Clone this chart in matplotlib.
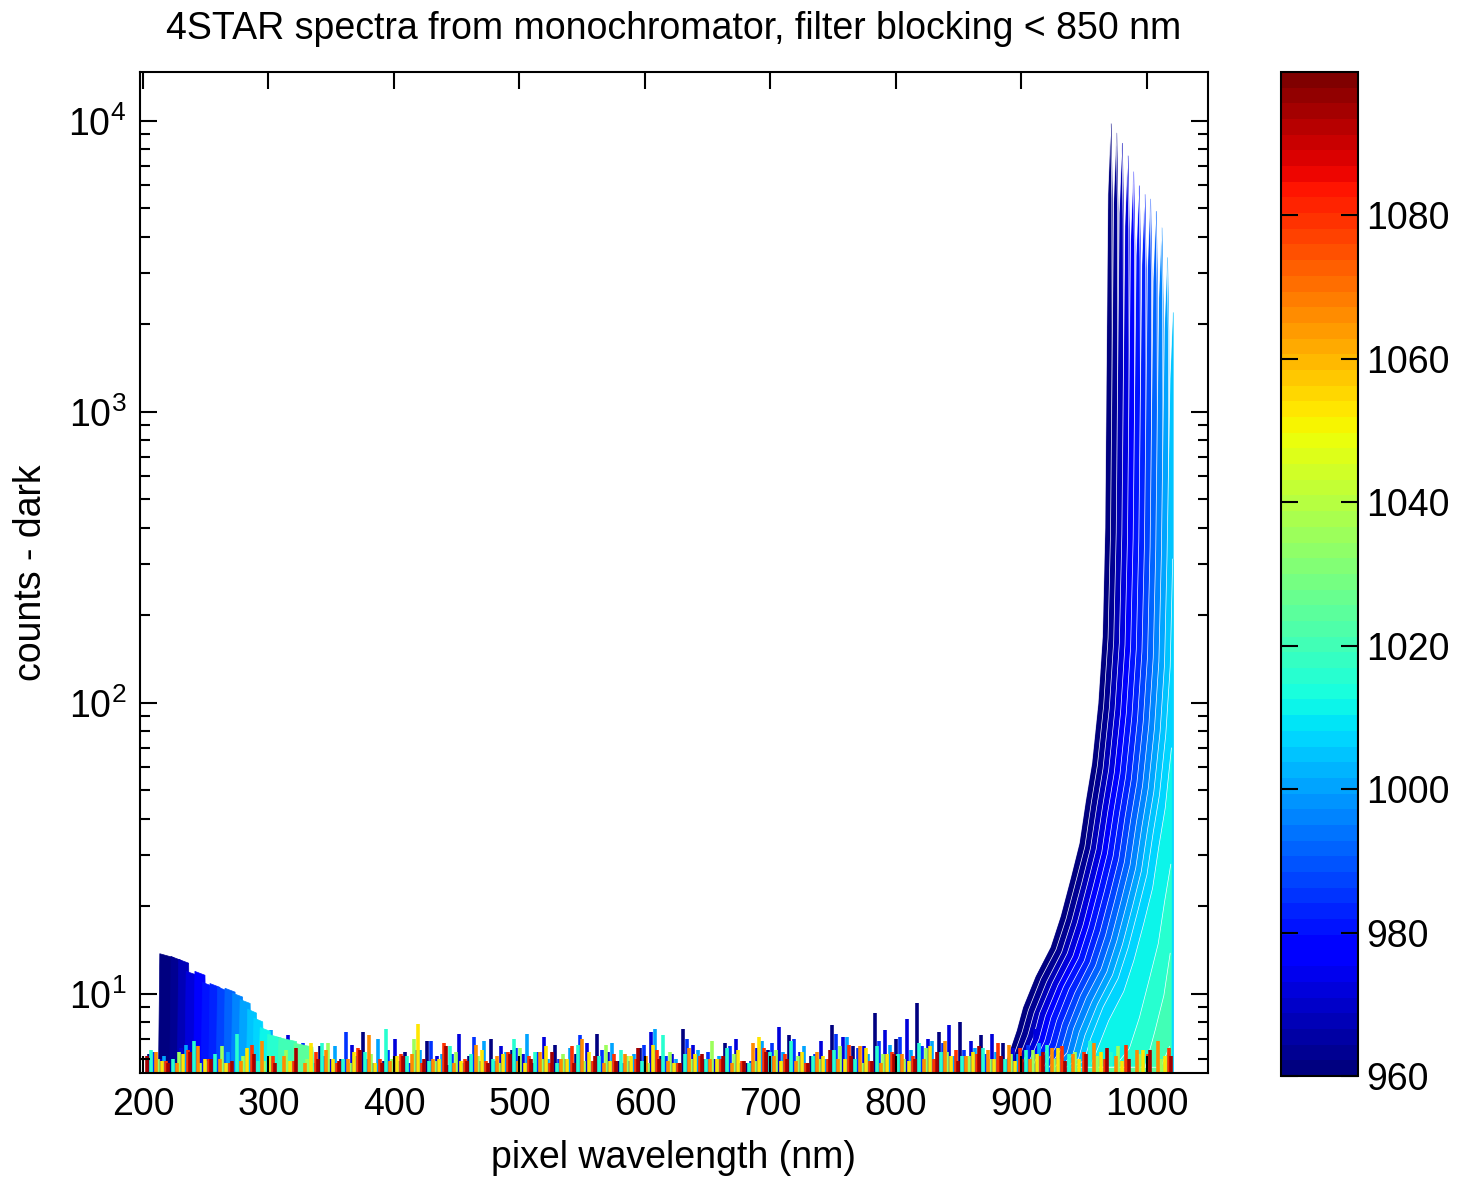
import numpy as np
import matplotlib
matplotlib.use('Agg')
import matplotlib.pyplot as plt
from matplotlib import font_manager
from matplotlib.colors import Normalize
from matplotlib.cm import ScalarMappable

# police étroite façon MATLAB si elle existe
noms_polices = {f.name for f in font_manager.fontManager.ttflist}
police = 'Liberation Sans Narrow' if 'Liberation Sans Narrow' in noms_polices else 'Liberation Sans'
plt.rcParams['font.family'] = [police, 'DejaVu Sans']
plt.rcParams['mathtext.fontset'] = 'custom'
plt.rcParams['mathtext.rm'] = police
plt.rcParams['mathtext.it'] = police
plt.rcParams['mathtext.bf'] = police

# ---- données ----
# longueurs d'onde du monochromateur (couleur) pour les spectres avec signal
mono_pic = [960, 964, 968, 972, 976, 980, 984, 988, 992, 996, 1000,
            1004, 1008, 1012, 1016, 1020, 1024]
# position du pic (nm pixel) de chaque spectre
pos_pic = [971.0, 975.5, 980.0, 984.5, 989.0, 993.5, 998.0, 1002.5, 1007.0,
           1011.5, 1016.0, 1020.5, 1025.0, 1029.5, 1034.0, 1038.5, 1043.0]
# écart au pic (nm) des points lus
decalage_pic = [-85, -75, -70, -60, -48, -40, -32, -25, -20, -15, -10, -6.5,
                -4.5, -2.2, 0, 1.0, 1.6, 2.5, 4, 8, 15, 25, 40]
# comptes - dark à chaque écart
comptes_pic = [
    [5.6, 7.5, 9.0, 11.5, 14.5, 18.5, 25, 33, 46, 62, 100, 170, 400, 5600, 9800, 5400, 450, 90, 32, 18, 14, 11, 8],
    [5.6, 7.4, 8.8, 11.3, 14.2, 18.1, 24.5, 32, 45, 61, 98, 167, 392, 5200, 9100, 5000, 420, 84, 31, 17.6, 13.7, 10.8, 7.8],
    [5.6, 7.2, 8.6, 11.0, 13.9, 17.8, 24, 31.7, 44, 59.5, 96, 163, 384, 4800, 8400, 4600, 385, 77, 30.7, 17.3, 13.4, 10.6, 7.7],
    [5.6, 7.1, 8.6, 10.9, 13.8, 17.6, 23.8, 31.4, 43.7, 58.9, 95, 161, 380, 4350, 7600, 4200, 350, 70, 30.4, 17.1, 13.3, 10.5, 7.6],
    [5.6, 7.0, 8.4, 10.7, 13.5, 17.2, 23.3, 30.7, 42.8, 57.7, 93, 158, 372, 3830, 6700, 3700, 308, 62, 29.8, 16.7, 13.0, 10.2, 7.4],
    [5.6, 6.9, 8.3, 10.6, 13.3, 17.0, 23, 30.4, 42.3, 57, 92, 156, 368, 3430, 6000, 3300, 275, 55, 29.4, 16.6, 12.9, 10.1, 7.4],
    [5.6, 6.8, 8.1, 10.4, 13.0, 16.7, 22.5, 29.7, 41.4, 55.8, 90, 153, 360, 3200, 5600, 3100, 257, 51, 28.8, 16.2, 12.6, 9.9, 7.2],
    [5.6, 6.6, 7.9, 10.1, 12.8, 16.3, 22, 29, 40.5, 54.6, 88, 150, 352, 3090, 5400, 3000, 248, 50, 28.2, 15.8, 12.3, 9.7, 7.0],
    [5.6, 6.5, 7.7, 9.9, 12.5, 15.9, 21.5, 28.4, 39.6, 53.3, 86, 146, 344, 2800, 4900, 2700, 225, 45, 27.5, 15.5, 12.0, 9.5, 6.9],
    [5.6, 6.3, 7.6, 9.7, 12.2, 15.5, 21, 27.7, 38.6, 52, 84, 143, 336, 2460, 4300, 2400, 198, 40, 26.9, 15.1, 11.8, 9.2, 6.7],
    [5.6, 6.2, 7.4, 9.4, 11.9, 15.2, 20.5, 27, 37.7, 50.8, 82, 139, 328, 1940, 3400, 1900, 156, 31, 26.2, 14.8, 11.5, 9.0, 6.6],
    [5.6, 6.0, 7.2, 9.2, 11.6, 14.8, 20, 26.4, 36.8, 49.6, 80, 136, 320, 1300, 2200, 1200, 150, 40, 25, 14, 11, 9.0, 6.5],
    [5.6, 5.9, 7.0, 9.0, 11.3, 14.4, 19.5, 25.7, 35.9, 48.4, 78, 133, 312, 1100, 1900, 1000, 130, 35, 24, 14, 11, 8.6, 6.2],
    [5.6, 5.6, 6.3, 8.1, 10.2, 13.0, 17.5, 23.1, 32.2, 43.4, 70, 119, 280, 900, 1500, 800, 100, 30, 22, 13, 10, 7.7, 5.8],
    [5.6, 5.6, 5.6, 5.6, 6.5, 8.3, 11.3, 14.9, 20.7, 27.9, 45, 77, 180, 600, 1000, 550, 70, 20, 14, 8.1, 6.3, 5.6, 5.6],
    [5.6, 5.6, 5.6, 5.6, 5.6, 5.6, 7.5, 9.9, 13.8, 18.6, 30, 51, 120, 400, 700, 380, 50, 15, 9.6, 5.6, 5.6, 5.6, 5.6],
    [5.6, 5.6, 5.6, 5.6, 5.6, 5.6, 5.6, 6.6, 9.2, 12.4, 20, 34, 80, 250, 450, 250, 30, 10, 6.4, 5.6, 5.6, 5.6, 5.6],
]
fin_detecteur = 1020.6

# bosse UV (200-335 nm) : début, fin et niveau du plateau de chaque spectre
debut_bosse = [213, 222, 228, 234, 241, 247, 253, 259, 265, 271, 277, 283,
               288, 293, 299, 308, 320]
fin_bosse = [224, 230, 236, 243, 249, 255, 261, 267, 273, 279, 285, 290,
             295, 301, 310, 322, 335]
niveau_bosse = [13.8, 13.5, 13.2, 12.0, 12.0, 11.0, 10.9, 10.6, 10.5, 10.1,
                9.6, 8.9, 8.3, 7.7, 7.3, 7.1, 6.8]

# bruit au niveau du dark (pics fins), une série par couleur
bruit_mono = [962, 972, 986, 1000, 1016, 1036, 1052, 1066, 1080, 1094]
bruit_debut = [205.0, 213.5, 208.4, 216.9, 206.7, 211.8, 215.2, 210.1, 218.6, 203.3]
bruit_pas = 17.0
bruit_hauteur = [
    [6.2, 5.9, 6.8, 6.1, 5.7, 6.4, 7.1, 5.8, 6.6, 6.0, 7.4, 5.9, 6.3, 6.9, 5.7, 6.1, 7.0, 6.4, 5.8, 6.7, 6.2, 7.3, 5.9, 6.5, 6.1, 7.6, 6.0, 6.8, 5.8, 6.4, 7.2, 6.1, 7.8, 6.6, 8.6, 7.0, 9.3, 7.4, 8.0, 7.2, 6.8, 7.5, 6.9, 7.7, 7.1, 6.6, 7.3, 6.9, 7.0],
    [6.0, 6.5, 5.8, 6.9, 6.2, 5.9, 7.2, 6.3, 6.0, 6.7, 5.8, 7.0, 6.4, 6.1, 7.3, 5.9, 6.6, 6.2, 7.1, 6.0, 6.8, 6.3, 5.9, 7.4, 6.2, 6.7, 6.0, 7.0, 6.5, 7.7, 6.3, 6.9, 7.1, 6.6, 7.5, 8.2, 7.0, 7.8, 6.9, 7.3, 6.5, 7.6, 7.0, 6.8, 7.2, 6.7, 7.0, 6.6, 6.8],
    [6.3, 5.8, 6.6, 6.0, 7.0, 6.2, 5.9, 6.8, 6.1, 7.4, 6.0, 6.4, 5.8, 6.9, 6.2, 7.1, 5.9, 6.5, 6.3, 6.0, 7.2, 6.4, 5.8, 6.7, 6.1, 7.0, 6.3, 6.6, 5.9, 6.8, 7.0, 6.2, 7.3, 6.5, 6.9, 7.1, 6.6, 6.8, 6.4, 6.2, 6.0, 6.7, 6.3, 6.9, 6.5, 6.1, 6.8, 6.4, 6.2],
    [6.1, 6.7, 5.9, 6.3, 6.0, 7.5, 6.2, 5.8, 6.6, 6.1, 7.0, 5.9, 6.4, 6.2, 5.8, 6.9, 6.3, 7.3, 6.0, 6.5, 5.9, 6.8, 6.2, 7.6, 6.0, 6.4, 6.1, 5.8, 6.9, 6.3, 6.6, 6.0, 7.1, 6.2, 6.7, 6.4, 6.9, 6.1, 6.5, 6.3, 6.2, 6.8, 6.0, 6.6, 6.3, 7.0, 6.2, 6.5, 6.1],
    [6.4, 6.0, 6.9, 6.2, 7.3, 5.9, 6.5, 6.1, 6.8, 6.0, 6.3, 7.6, 6.1, 5.9, 6.6, 6.2, 6.0, 7.0, 6.3, 5.8, 6.7, 6.1, 6.4, 5.9, 7.2, 6.2, 6.0, 6.5, 5.8, 6.3, 6.9, 6.1, 6.4, 6.0, 6.6, 6.2, 6.8, 6.3, 6.1, 6.5, 6.0, 6.4, 6.7, 6.2, 6.9, 6.3, 6.6, 6.1, 6.3],
    [6.0, 6.3, 5.8, 6.6, 6.1, 5.9, 6.4, 6.0, 6.8, 5.8, 6.2, 6.0, 7.0, 5.9, 6.3, 6.1, 5.8, 6.5, 6.0, 6.2, 5.9, 6.7, 6.1, 5.8, 6.3, 6.0, 6.9, 6.2, 5.9, 6.4, 6.1, 6.0, 6.6, 5.8, 6.2, 6.0, 6.5, 6.3, 6.1, 6.0, 6.2, 6.4, 6.0, 6.3, 6.1, 6.6, 6.2, 6.0, 6.4],
    [5.9, 6.2, 6.0, 5.8, 6.5, 6.1, 5.9, 6.8, 6.0, 6.3, 5.8, 6.1, 7.9, 6.0, 5.9, 6.4, 6.2, 5.8, 6.6, 6.0, 6.3, 5.9, 6.1, 6.7, 5.8, 6.2, 6.0, 6.4, 7.1, 5.9, 6.3, 6.1, 6.0, 6.5, 6.2, 5.9, 6.6, 6.1, 6.3, 6.0, 5.9, 6.2, 6.5, 6.0, 6.3, 5.9, 6.4, 6.1, 6.0],
    [6.3, 5.8, 6.6, 6.0, 5.9, 6.9, 6.1, 5.8, 6.4, 6.0, 7.2, 5.9, 6.2, 6.0, 5.8, 6.7, 6.1, 5.9, 6.3, 6.0, 7.0, 5.8, 6.2, 6.1, 5.9, 6.5, 6.0, 5.8, 6.8, 6.1, 5.9, 6.3, 6.0, 6.6, 5.8, 6.2, 6.0, 6.9, 6.1, 6.4, 6.7, 6.0, 6.5, 6.2, 6.8, 6.1, 6.4, 6.9, 6.2],
    [5.9, 6.4, 6.0, 5.8, 6.7, 6.1, 5.9, 6.3, 5.8, 6.5, 6.0, 6.2, 5.8, 6.8, 6.0, 5.9, 6.3, 6.1, 5.8, 6.6, 5.9, 6.2, 6.0, 6.4, 5.8, 6.1, 6.0, 5.9, 6.5, 6.2, 5.8, 6.0, 6.7, 5.9, 6.3, 6.1, 6.0, 6.4, 6.2, 6.8, 6.5, 6.1, 6.6, 6.3, 6.0, 6.7, 6.2, 6.5, 6.0],
    [6.1, 5.8, 6.3, 6.0, 5.9, 6.2, 5.8, 6.5, 6.0, 5.9, 6.4, 5.8, 6.1, 6.0, 6.6, 5.9, 5.8, 6.2, 6.0, 6.3, 5.8, 6.1, 5.9, 6.5, 6.0, 5.8, 6.2, 6.1, 5.9, 6.3, 6.0, 5.8, 6.4, 6.1, 5.9, 6.2, 6.0, 6.3, 5.9, 6.6, 6.1, 6.0, 6.3, 5.9, 6.2, 6.5, 6.0, 6.4, 6.1],
]

ticks_x = [200, 300, 400, 500, 600, 700, 800, 900, 1000]
ticks_cb = [960, 980, 1000, 1020, 1040, 1060, 1080]

# ---- figure ----
cmap = plt.get_cmap('jet', 64)
norm = Normalize(vmin=960, vmax=1100)
bas = 1.0
taille = 27

fig = plt.figure(figsize=(14.58, 11.79), dpi=100)
ax = fig.add_axes([0.0960, 0.0899, 0.7325, 0.8490])


def ordre(m):
    return 1.0 + (m - 960) / 200.0


for k, m in enumerate(mono_pic):
    c = cmap(norm(m))
    # bosse UV
    L = niveau_bosse[k]
    bx = [debut_bosse[k] - 1, debut_bosse[k], fin_bosse[k], fin_bosse[k] + 1]
    by = [5.5, L, 0.97 * L, 5.5]
    ax.fill_between(bx, bas, by, color=c, lw=0.5, zorder=ordre(m))
    # signal proche IR
    wl = pos_pic[k] + np.array(decalage_pic)
    y = np.array(comptes_pic[k])
    garde = wl <= fin_detecteur
    ax.fill_between(wl[garde], bas, y[garde], color=c, lw=0.5, zorder=ordre(m))
    ax.plot(wl[garde], y[garde], color='white', lw=0.5, zorder=ordre(m) + 0.0005)

for k, m in enumerate(bruit_mono):
    c = cmap(norm(m))
    h = np.array(bruit_hauteur[k])
    x = np.arange(bruit_debut[k], fin_detecteur, bruit_pas)
    n = min(len(x), len(h))
    ax.vlines(x[:n], bas, h[:n], color=c, lw=2.6, zorder=ordre(m) + 0.001)

ax.set_yscale('log')
ax.set_xlim(197.6, 1048.6)
ax.set_ylim(5.35, 14700)
ax.set_xticks(ticks_x)
ax.set_axisbelow(False)
ax.tick_params(which='both', direction='in', top=True, right=True,
               labelsize=taille, width=1.5, pad=10)
ax.tick_params(which='major', length=12)
ax.tick_params(which='minor', length=7)
for s in ax.spines.values():
    s.set_linewidth(1.5)
    s.set_zorder(5)

ax.set_title('4STAR spectra from monochromator, filter blocking < 850 nm',
             fontsize=taille, pad=24)
ax.set_xlabel('pixel wavelength (nm)', fontsize=taille, labelpad=12)
ax.set_ylabel('counts - dark', fontsize=taille, labelpad=14)

cax = fig.add_axes([0.8786, 0.0874, 0.0528, 0.8516])
cb = fig.colorbar(ScalarMappable(norm=norm, cmap=cmap), cax=cax, ticks=ticks_cb)
cb.ax.tick_params(direction='in', length=12, width=1.5, left=True, right=True,
                  labelsize=taille, pad=6)
cb.outline.set_linewidth(1.5)

plt.savefig('out.png', dpi=100)
